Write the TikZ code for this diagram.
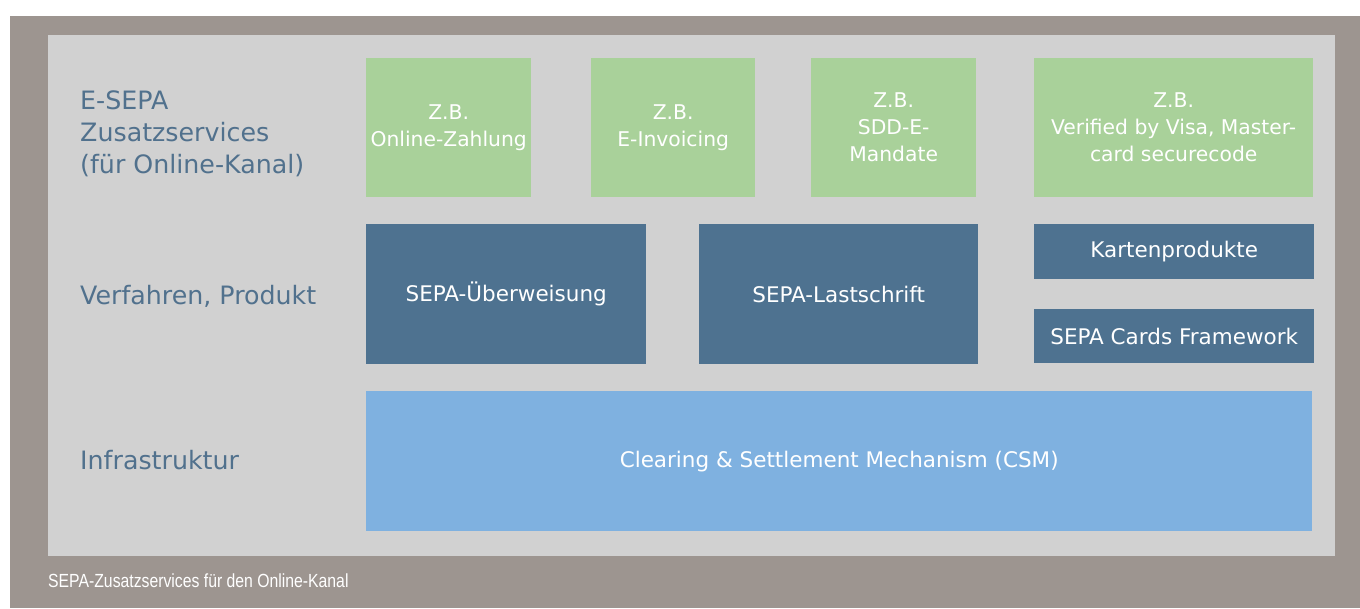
\documentclass[tikz,border=0pt]{standalone}
\usepackage{fontspec}
\usepackage{tikz}
\setmainfont{DejaVu Sans}
\newfontfamily\capfont[FakeStretch=0.83]{Liberation Sans}
\definecolor{frame}{HTML}{9D9590}
\definecolor{panel}{HTML}{D1D1D1}
\definecolor{green300}{HTML}{A9D19A}
\definecolor{blue700}{HTML}{4E7290}
\definecolor{blue300}{HTML}{7FB1E0}
\definecolor{labeltext}{HTML}{51718D}
\tikzstyle{box}=[rectangle, anchor=north west, inner sep=0pt, text=white, align=center]
\tikzstyle{service}=[box, fill=green300, minimum height=139pt, font=\fontsize{20.3}{27}\selectfont]
\tikzstyle{produkt}=[box, fill=blue700, font=\fontsize{21.5}{27}\selectfont]
\tikzstyle{ebene}=[text=labeltext, inner sep=0pt, align=left, font=\fontsize{25.3}{32}\selectfont]

\begin{document}
\begin{tikzpicture}[x=1pt, y=-1pt]
				\useasboundingbox (0,0) rectangle (1360,608);
				\fill[frame] (10,16) rectangle (1360,608);
				\fill[panel] (48,35) rectangle (1335,556);
				\node[ebene, anchor=west] (esepa) at (80,134) {E-SEPA\\Zusatzservices\\(für Online-Kanal)};
				\node[ebene, anchor=base west] (verfahren) at (80,304) {Verfahren, Produkt};
				\node[ebene, anchor=base west] (infra) at (80,469) {Infrastruktur};
				\node[service, minimum width=165pt] (zahlung) at (366,58) {Z.B.\\Online-Zahlung};
				\node[service, minimum width=164pt] (invoicing) at (591,58) {Z.B.\\E-Invoicing};
				\node[service, minimum width=165pt] (mandate) at (811,58) {Z.B.\\SDD-E-\\Mandate};
				\node[service, minimum width=279pt] (visa) at (1034,58) {Z.B.\\Verified by Visa, Master-\\card securecode};
				\node[produkt, minimum width=280pt, minimum height=140pt] (ueberweisung) at (366,224) {SEPA-Überweisung};
				\node[produkt, minimum width=279pt, minimum height=140pt] (lastschrift) at (699,224) {SEPA-Lastschrift};
				\node[produkt, minimum width=280pt, minimum height=55pt] (karten) at (1034,224) {Kartenprodukte};
				\node[produkt, minimum width=280pt, minimum height=54pt] (cards) at (1034,309) {SEPA Cards Framework};
				\node[produkt, fill=blue300, minimum width=946pt, minimum height=140pt] (csm) at (366,391) {Clearing \& Settlement Mechanism (CSM)};
				\node[anchor=base west, inner sep=0pt, text=white, font=\capfont\fontsize{19}{22}\selectfont] (caption) at (48,587) {SEPA-Zusatzservices für den Online-Kanal};
			\end{tikzpicture}
\end{document}
